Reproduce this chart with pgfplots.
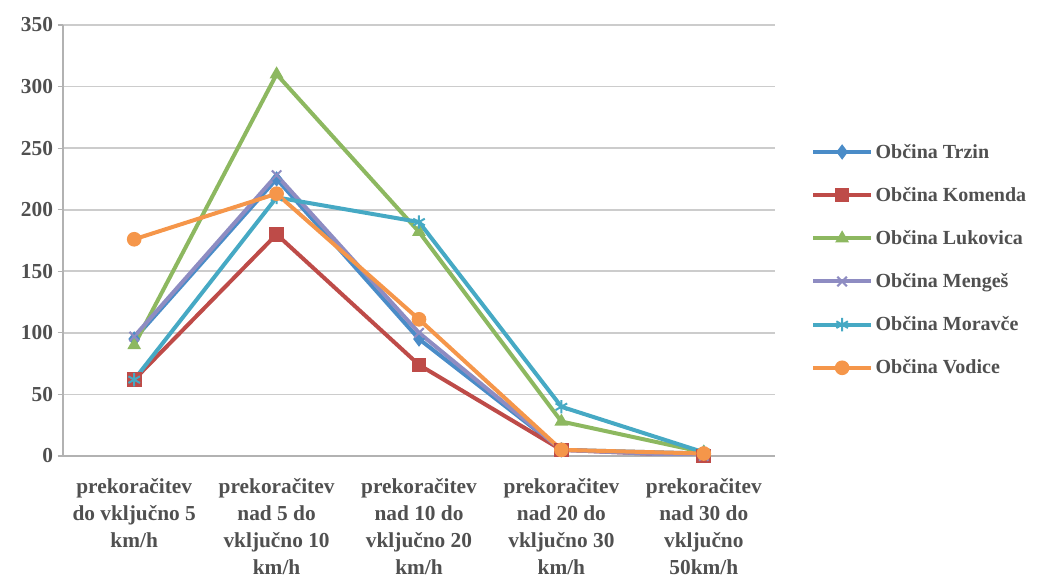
\documentclass[border=0pt]{standalone}
\usepackage{fontspec}
\setmainfont{Liberation Serif}
\usepackage{pgfplots}
\pgfplotsset{compat=1.18}

\definecolor{trzin}{HTML}{4A8CC8}
\definecolor{komenda}{HTML}{BE4B48}
\definecolor{lukovica}{HTML}{8DB860}
\definecolor{menges}{HTML}{8E8CC2}
\definecolor{moravce}{HTML}{46A9C4}
\definecolor{vodice}{HTML}{F5964A}
\definecolor{txt}{HTML}{505050}

\begin{document}
\begin{tikzpicture}
\begin{axis}[
    at={(0,0)}, anchor=south west,
    width=534pt, height=323.25pt, scale only axis,
    xmin=-0.5, xmax=4.5,
    ymin=0, ymax=350,
    ytick={0,50,...,350},
    xtick={0,1,2,3,4},
    xticklabels={
      {prekoračitev\\do vključno 5\\km/h},
      {prekoračitev\\nad 5 do\\vključno 10\\km/h},
      {prekoračitev\\nad 10 do\\vključno 20\\km/h},
      {prekoračitev\\nad 20 do\\vključno 30\\km/h},
      {prekoračitev\\nad 30 do\\vključno\\50km/h}},
    x tick label style={align=center, font=\fontsize{16}{20.3}\selectfont\bfseries, text=txt, yshift=-9pt},
    y tick label style={font=\fontsize{16}{20}\selectfont\bfseries, text=txt},
    /pgf/number format/assume math mode=true,
    xtick style={draw=none},
    minor xtick={-0.5,0.5,...,4.5},
    minor tick length=6pt,
    major tick length=4pt,
    tick align=outside,
    minor x tick style={gray!60, line width=0.8pt},
    ytick style={gray!60, line width=0.8pt},
    axis x line*=bottom,
    axis y line*=left,
    axis line style={gray!60, line width=0.8pt, -},
    ymajorgrids=true,
    grid style={gray!40, line width=1.2pt},
    every axis plot/.append style={line width=3pt, mark size=5pt},
    legend style={at={(1.045,0.455)}, anchor=west, draw=none, fill=none,
      font=\fontsize{15}{18}\selectfont\bfseries, text=txt, row sep=16.3pt},
    legend cell align=left,
    legend image code/.code={
      \draw[mark repeat=2, mark phase=2] plot coordinates {(0cm,0cm) (0.76cm,0cm) (1.52cm,0cm)};},
]
\addplot[color=trzin, mark=diamond*, mark options={fill=trzin, line width=1pt}]
  coordinates {(0,95) (1,225) (2,95) (3,5) (4,2)};
\addplot[color=komenda, mark=square*, mark options={fill=komenda, line width=1pt}]
  coordinates {(0,62) (1,180) (2,74) (3,5) (4,0)};
\addplot[color=lukovica, mark=triangle*, mark options={fill=lukovica, line width=1pt}]
  coordinates {(0,90) (1,310) (2,182) (3,28) (4,3)};
\addplot[color=menges, mark=x, mark options={line width=1.5pt}]
  coordinates {(0,97) (1,228) (2,100) (3,5) (4,0)};
\addplot[color=moravce, mark=asterisk, mark options={line width=1.5pt}]
  coordinates {(0,62) (1,210) (2,190) (3,40) (4,3)};
\addplot[color=vodice, mark=*, mark options={fill=vodice, line width=1pt}]
  coordinates {(0,176) (1,213) (2,111) (3,5) (4,2)};
\legend{Občina Trzin, Občina Komenda, Občina Lukovica, Občina Mengeš, Občina Moravče, Občina Vodice}
\end{axis}
\pgfresetboundingbox
\path[use as bounding box] (-47.25pt,-91.5pt) rectangle (732.75pt,342pt);
\end{tikzpicture}
\end{document}
